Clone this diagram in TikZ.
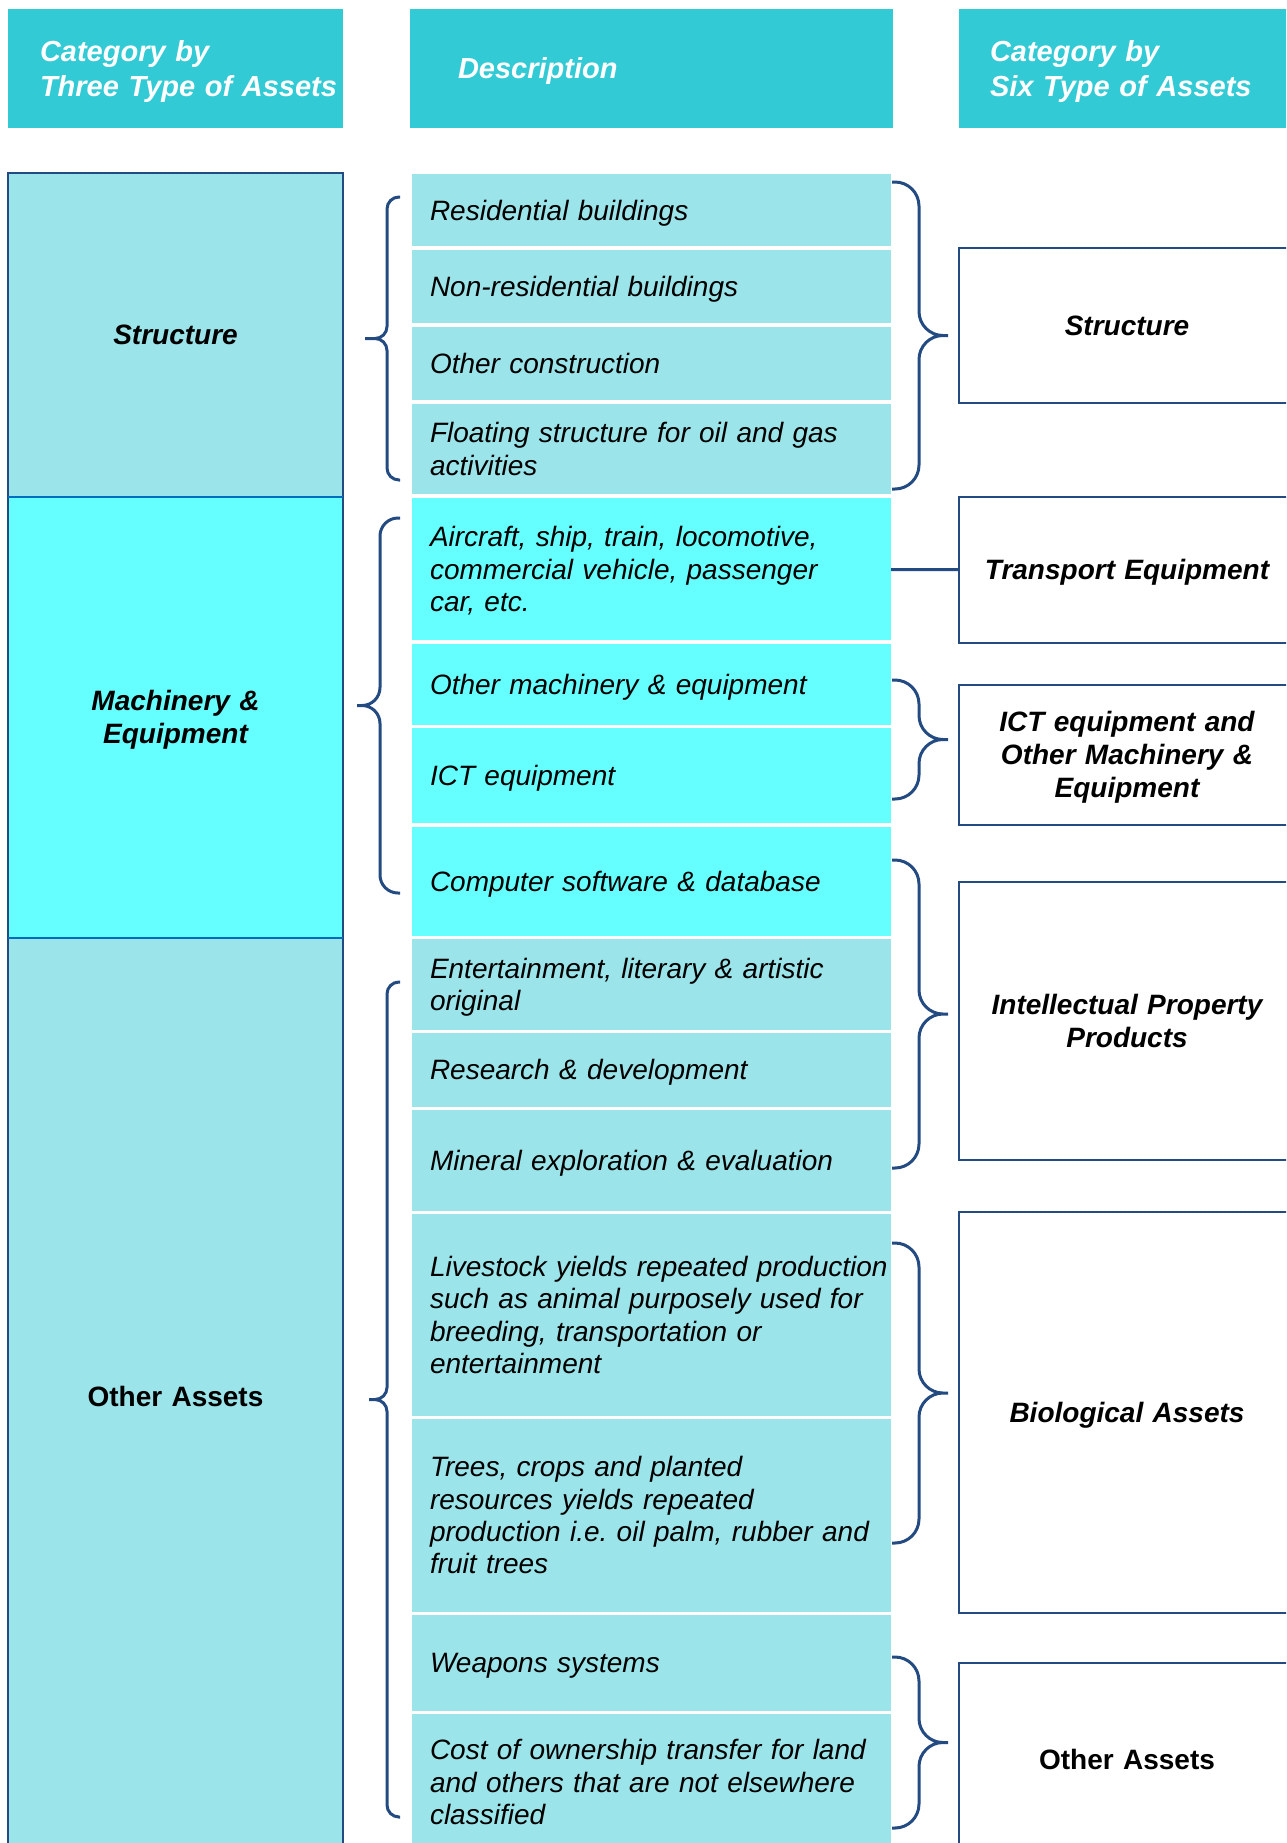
\documentclass[tikz,border=0pt]{standalone}
\usepackage{fontspec}
\setmainfont{Liberation Sans}
\usepackage{tikz}
\usetikzlibrary{positioning}
\usetikzlibrary{calc}
\frenchspacing

\definecolor{headcyan}{RGB}{50,202,213}
\definecolor{paleteal}{RGB}{155,228,234}
\definecolor{brightcyan}{RGB}{102,255,255}
\definecolor{navyline}{RGB}{35,75,130}
\definecolor{sepblue}{RGB}{0,110,190}

\newcommand{\groupbrace}[5]{%
  \draw [brace line,rounded corners=#5] let \p1=(#1), \p2=(#2) in
    (\p1) -| ({\x1+(#3)},{(\y1+\y2)/2}) -- ({\x1+(#4)},{(\y1+\y2)/2})
    (\p2) -| ({\x1+(#3)},{(\y1+\y2)/2}) -- ({\x1+(#4)},{(\y1+\y2)/2});
}

\begin{document}
\begin{tikzpicture}
    [
    x=0.5pt,y=-0.5pt,
    line box/.style={execute at begin node={\rule{0pt}{#1}},execute at end node={\rule[-3pt]{0pt}{3pt}}},
    head/.style={rectangle,fill=headcyan,text=white,anchor=north west,outer sep=0pt,inner ysep=0pt,minimum height=59.5pt,align=left,line box=13.3pt,font=\bfseries\itshape\fontsize{14.5}{17.5}\selectfont},
    desc/.style={rectangle,fill=paleteal,outer sep=0pt,inner xsep=9pt,inner ysep=0pt,text width=221.5pt,minimum width=239.5pt,align=left,line box=12.9pt,font=\itshape\fontsize{14}{16.2}\selectfont},
    machdesc/.style={desc,fill=brightcyan},
    cat/.style={rectangle,draw=navyline,line width=1pt,anchor=north west,outer sep=0pt,inner xsep=0pt,inner ysep=0pt,text width=167.5pt,align=center,line box=12.9pt,font=\bfseries\itshape\fontsize{14}{16.5}\selectfont},
    six/.style={rectangle,draw=navyline,line width=1pt,fill=white,anchor=north west,outer sep=0pt,inner xsep=0pt,inner ysep=0pt,text width=168pt,align=center,line box=12.9pt,font=\bfseries\itshape\fontsize{14}{16.5}\selectfont},
    plain label/.style={font=\bfseries\fontsize{14}{16.5}\selectfont},
    brace line/.style={draw=navyline,line width=1.5pt},
    sep line/.style={draw=sepblue,line width=1pt},
    ]
    \useasboundingbox (0,0) rectangle (1286,1843);
    \clip (0,0) rectangle (1286,1843);

    \node (hthree) at (8,9) [head,text width=135.5pt,inner xsep=16pt] {\mbox{Category by}\\\mbox{Three Type of Assets}};
    \node (hdesc) at (410,9) [head,text width=193.5pt,inner xsep=24pt] {Description};
    \node (hsix) at (959,9) [head,text width=137pt,inner xsep=15.5pt] {Category by\\Six Type of Assets};

    \node (structure) at (8,173) [cat,fill=paleteal,minimum height=162pt] {Structure};
    \node (machinery) [cat,fill=brightcyan,minimum height=220.5pt,below=0pt of structure] {Machinery \&\\Equipment};
    \node (otherthree) [cat,fill=paleteal,minimum height=458.5pt,below=0pt of machinery,plain label] {Other Assets};
    \draw [sep line] (machinery.north west) to (machinery.north east);
    \draw [sep line] (machinery.south west) to (machinery.south east);

    \node (res) at (412,174) [desc,anchor=north west,minimum height=36.2pt] {Residential buildings};
    \node (nonres) [desc,minimum height=36.6pt,below=1.85pt of res] {Non-residential buildings};
    \node (othcon) [desc,minimum height=36.6pt,below=1.85pt of nonres] {Other construction};
    \node (float) [desc,minimum height=45.2pt,below=1.85pt of othcon] {Floating structure for oil and gas\\activities};
    \node (air) [machdesc,minimum height=71.2pt,below=1.85pt of float] {Aircraft, ship, train, locomotive,\\commercial vehicle, passenger\\car, etc.};
    \node (othmach) [machdesc,minimum height=40.2pt,below=1.85pt of air] {Other machinery \& equipment};
    \node (ict) [machdesc,minimum height=47.6pt,below=1.85pt of othmach] {ICT equipment};
    \node (soft) [machdesc,minimum height=54.2pt,below=1.85pt of ict] {Computer software \& database};
    \node (ent) [desc,minimum height=45.2pt,below=1.85pt of soft] {Entertainment, literary \& artistic\\original};
    \node (rnd) [desc,minimum height=36.6pt,below=1.85pt of ent] {Research \& development};
    \node (mineral) [desc,minimum height=50.2pt,below=1.85pt of rnd] {Mineral exploration \& evaluation};
    \node (live) [desc,minimum height=100.6pt,below=1.85pt of mineral] {\mbox{Livestock yields repeated production}\\\mbox{such as animal purposely used for}\\breeding, transportation or\\entertainment};
    \node (trees) [desc,minimum height=96.2pt,below=1.85pt of live] {Trees, crops and planted\\resources yields repeated\\\mbox{production i.e. oil palm, rubber and}\\fruit trees};
    \node (weap) [desc,minimum height=47.6pt,below=1.85pt of trees] {Weapons systems};
    \node (cost) [desc,minimum height=68pt,below=1.85pt of weap] {\mbox{Cost of ownership transfer for land}\\\mbox{and others that are not elsewhere}\\classified};

    \node (structsix) at (959,248) [six,minimum height=77.5pt] {Structure};
    \node (transport) at (959,497) [six,minimum height=73pt] {Transport Equipment};
    \node (ictsix) at (959,685) [six,minimum height=70pt] {ICT equipment and\\Other Machinery \&\\Equipment};
    \node (ipp) at (959,882) [six,minimum height=139pt] {Intellectual Property\\Products};
    \node (bio) at (959,1212) [six,minimum height=200.5pt] {Biological Assets};
    \node (othersix) at (959,1663) [six,minimum height=97pt,plain label] {Other Assets};

    \draw [brace line] (air) to (transport);

    \coordinate (sl1) at (400,197);
    \coordinate (sl2) at (400,480);
    \coordinate (ml1) at (400,518);
    \coordinate (ml2) at (400,893);
    \coordinate (ol1) at (400,982);
    \coordinate (ol2) at (400,1817);
    \groupbrace{sl1}{sl2}{-6.5pt}{-17.5pt}{6pt}
    \groupbrace{ml1}{ml2}{-10pt}{-21.5pt}{9pt}
    \groupbrace{ol1}{ol2}{-6.5pt}{-15.5pt}{6pt}

    \coordinate (sr1) at (892,182);
    \coordinate (sr2) at (892,489);
    \coordinate (ir1) at (892,680);
    \coordinate (ir2) at (892,799);
    \coordinate (pr1) at (892,860);
    \coordinate (pr2) at (892,1168);
    \coordinate (br1) at (892,1243);
    \coordinate (br2) at (892,1543);
    \coordinate (or1) at (892,1657);
    \coordinate (or2) at (892,1828);
    \groupbrace{sr1}{sr2}{13.5pt}{28pt}{12pt}
    \groupbrace{ir1}{ir2}{13.5pt}{28pt}{12pt}
    \groupbrace{pr1}{pr2}{13.5pt}{28pt}{12pt}
    \groupbrace{br1}{br2}{13.5pt}{28pt}{12pt}
    \groupbrace{or1}{or2}{13.5pt}{28pt}{12pt}
  \end{tikzpicture}
\end{document}
